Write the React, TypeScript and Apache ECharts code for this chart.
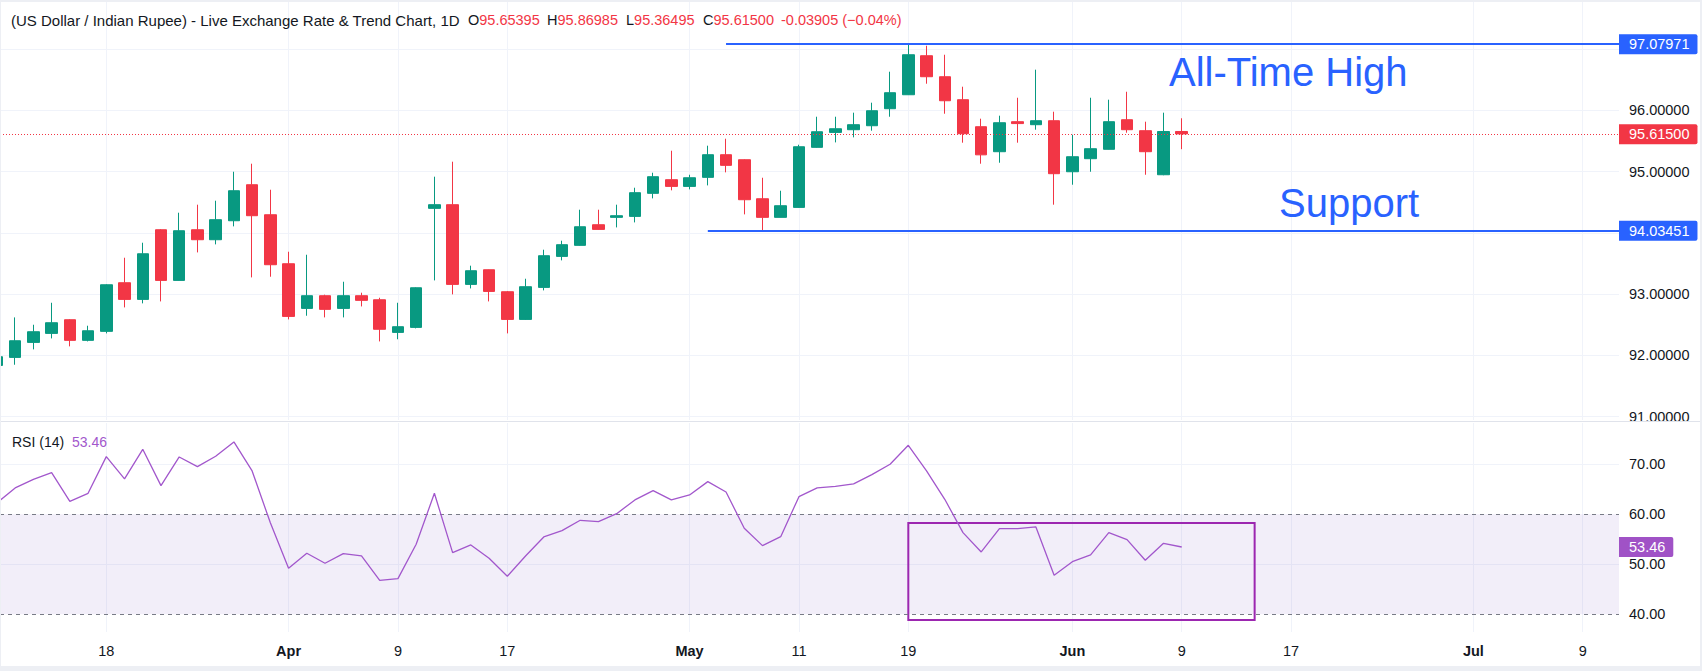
import React, { useEffect, useRef } from "react";
import * as echarts from "echarts";

// ---------- data ----------
function weekdays(start: string, count: number): string[] {
  const out: string[] = [];
  const d = new Date(start + "T00:00:00Z");
  while (out.length < count) {
    const w = d.getUTCDay();
    if (w !== 0 && w !== 6) out.push(d.toISOString().slice(0, 10));
    d.setUTCDate(d.getUTCDate() + 1);
  }
  return out;
}
const axisDates = weekdays("2026-03-10", 92);

const opens = [
  91.835, 91.966, 92.211, 92.358, 92.581, 92.244, 92.391, 93.185, 92.913, 94.05,
  93.223, 94.05, 93.887, 94.197, 94.785, 94.295, 93.495, 92.766, 92.973, 92.766,
  92.973, 92.907, 92.374, 92.456, 94.399, 94.459, 93.158, 93.397, 93.038, 92.586,
  93.109, 93.615, 93.795, 94.132, 94.252, 94.268, 94.644, 94.867, 94.758, 94.905,
  95.275, 95.193, 94.556, 94.252, 94.415, 95.395, 95.639, 95.683, 95.748, 96.026,
  96.254, 96.891, 96.548, 96.173, 95.732, 95.324, 95.814, 95.765, 95.83, 94.997,
  95.21, 95.363, 95.846, 95.667, 94.948, 95.65395,
];
const closes = [
  91.977, 92.238, 92.385, 92.532, 92.244, 92.401, 93.152, 92.913, 93.658, 93.223,
  94.034, 93.887, 94.214, 94.687, 94.279, 93.479, 92.635, 92.973, 92.75, 92.973,
  92.897, 92.425, 92.467, 93.103, 94.459, 93.158, 93.381, 93.043, 92.586, 93.12,
  93.626, 93.806, 94.099, 94.056, 94.279, 94.655, 94.916, 94.758, 94.899, 95.275,
  95.101, 94.54, 94.252, 94.442, 95.405, 95.65, 95.699, 95.765, 95.993, 96.287,
  96.907, 96.548, 96.156, 95.618, 95.273, 95.797, 95.783, 95.83, 94.965, 95.242,
  95.373, 95.814, 95.683, 95.324, 95.654, 95.615,
];
const lows = [
  91.8, 91.846, 92.097, 92.276, 92.146, 92.227, 92.358, 92.782, 92.848, 92.88,
  93.22, 93.68, 93.811, 94.105, 93.272, 93.283, 92.586, 92.646, 92.619, 92.619,
  92.798, 92.227, 92.262, 92.44, 93.223, 92.995, 93.092, 92.88, 92.358, 92.58,
  93.06, 93.55, 93.79, 94.05, 94.088, 94.17, 94.562, 94.693, 94.709, 94.774,
  94.987, 94.301, 94.0345, 94.25, 94.41, 95.39, 95.476, 95.558, 95.667, 95.895,
  96.25, 96.434, 95.944, 95.471, 95.128, 95.144, 95.471, 95.683, 94.459, 94.785,
  94.997, 95.36, 95.634, 94.948, 94.94, 95.36495,
];
const highs = [
  92.0, 92.619, 92.499, 92.858, 92.59, 92.483, 93.16, 93.593, 93.838, 94.06,
  94.328, 94.459, 94.524, 94.997, 95.128, 94.703, 93.691, 93.642, 92.99, 93.201,
  93.022, 92.94, 92.858, 93.11, 94.916, 95.161, 93.463, 93.4, 93.05, 93.25,
  93.724, 93.871, 94.377, 94.377, 94.459, 94.736, 94.981, 95.34, 94.948, 95.422,
  95.536, 95.2, 94.899, 94.687, 95.438, 95.895, 95.895, 95.961, 96.124, 96.63,
  97.07971, 97.054, 96.907, 96.385, 95.863, 95.912, 96.205, 96.663, 95.977, 95.601,
  96.205, 96.173, 96.303, 95.814, 95.961, 95.86985,
];
const rsiValues = [
  62.3, 65.27, 67.0, 68.33, 62.6, 64.2, 71.53, 67.07, 73.0, 65.73,
  71.47, 69.53, 71.6, 74.47, 68.67, 58.3, 49.2, 52.2, 50.2, 52.13,
  51.67, 46.8, 47.13, 54.0, 64.2, 52.33, 53.87, 51.2, 47.6, 51.67,
  55.47, 56.73, 58.8, 58.53, 60.13, 62.87, 64.73, 62.87, 63.87, 66.53,
  64.47, 57.2, 53.73, 55.53, 63.53, 65.27, 65.6, 66.07, 67.93, 70.0,
  73.8, 68.67, 63.0, 56.33, 52.47, 57.13, 57.13, 57.47, 47.8, 50.53,
  51.87, 56.33, 54.93, 50.8, 54.2, 53.46,
];

const tickDates = [
  "2026-03-10", "2026-03-18", "2026-04-01", "2026-04-09", "2026-04-17", "2026-05-01",
  "2026-05-11", "2026-05-19", "2026-06-01", "2026-06-09", "2026-06-17", "2026-07-01", "2026-07-09",
];
const tickTexts = ["10", "18", "Apr", "9", "17", "May", "11", "19", "Jun", "9", "17", "Jul", "9"];
const monthTicks = ["Apr", "May", "Jun", "Jul"];

const priceGridValues = [91, 92, 93, 94, 95, 96, 97];
const priceLabelValues = [91, 92, 93, 95, 96];
const rsiGridValues = [50, 70];
const rsiLabelValues = [40, 50, 60, 70];

const lastClose = 95.615;
const allTimeHigh = 97.07971;
const supportLevel = 94.03451;
const athStartDate = "2026-05-05";
const supportStartDate = "2026-05-04";
const boxStartDate = "2026-05-19";
const boxEndDate = "2026-06-15";
const boxTop = 58.26;
const boxBottom = 38.86;
const rsiLast = 53.46;

// ---------- style ----------
const FONT = "'Liberation Sans', Arial, sans-serif";
const GREEN = "#089981";
const RED = "#f23645";
const BLUE = "#2962ff";
const PURPLE = "#a257cc";
const BOXPURPLE = "#9c27b0";
const DARK = "#131722";
const GRID = "#f0f3fa";
const FRAME = "#edeff4";
const AXIS_FS = 14.5;

const X_MIN = 0.168;
const X_MAX = 88.99;

export default function App() {
  const ref = useRef<HTMLDivElement>(null);

  useEffect(() => {
    if (!ref.current) return;
    const chart = echarts.init(ref.current, null, { renderer: "svg" });

    const idx = (d: string) => axisDates.indexOf(d);
    const tickIdx = tickDates.map(idx);
    const labelByIdx: Record<number, string> = {};
    tickIdx.forEach((v, i) => (labelByIdx[v] = tickTexts[i]));

    const candleData = opens.map((o, i) => [i, o, closes[i], lows[i], highs[i]]);
    const rsiData = rsiValues.map((v, i) => [i, v]);

    const boxLabel = (text: string, bg: string, padR = 8) => ({
      show: true,
      position: "end",
      distance: 0,
      formatter: text,
      backgroundColor: bg,
      color: "#ffffff",
      fontFamily: FONT,
      fontSize: AXIS_FS,
      padding: [3, padR, 2, 10],
      borderRadius: [0, 2, 2, 0],
    });

    const option: any = {
      animation: false,
      backgroundColor: "#ffffff",
      textStyle: { fontFamily: FONT },
      grid: [
        { left: 0, top: 2, width: 1619, height: 418 },
        { left: 0, top: 423, width: 1619, height: 209 },
      ],
      xAxis: [
        {
          type: "value",
          gridIndex: 0,
          min: X_MIN,
          max: X_MAX,
          axisLine: { show: false },
          axisTick: { show: false, customValues: tickIdx },
          axisLabel: { show: false, customValues: tickIdx },
          splitLine: { show: true, lineStyle: { color: GRID, width: 1 } },
        },
        {
          type: "value",
          gridIndex: 1,
          min: X_MIN,
          max: X_MAX,
          axisLine: { show: false },
          axisTick: { show: false, customValues: tickIdx },
          axisLabel: {
            show: true,
            customValues: tickIdx,
            margin: 11,
            color: DARK,
            fontSize: AXIS_FS,
            fontFamily: FONT,
            formatter: (v: number) => {
              const t = labelByIdx[Math.round(v)] ?? "";
              return monthTicks.includes(t) ? `{b|${t}}` : t;
            },
            rich: { b: { fontWeight: "bold", fontSize: AXIS_FS, color: DARK, fontFamily: FONT } },
          },
          splitLine: { show: true, lineStyle: { color: GRID, width: 1 } },
        },
      ],
      yAxis: [
        {
          type: "value",
          gridIndex: 0,
          position: "right",
          min: 90.944,
          max: 97.768,
          axisLine: { show: false },
          axisTick: { show: false, customValues: priceGridValues },
          axisLabel: {
            customValues: priceLabelValues,
            formatter: (v: number) => v.toFixed(5),
            margin: 10,
            color: DARK,
            fontSize: AXIS_FS,
            fontFamily: FONT,
          },
          splitLine: { show: true, lineStyle: { color: GRID, width: 1 } },
        },
        {
          type: "value",
          gridIndex: 1,
          position: "right",
          min: 36.46,
          max: 78.26,
          axisLine: { show: false },
          axisTick: { show: false, customValues: rsiGridValues },
          axisLabel: {
            customValues: rsiLabelValues,
            formatter: (v: number) => v.toFixed(2),
            margin: 10,
            color: DARK,
            fontSize: AXIS_FS,
            fontFamily: FONT,
          },
          splitLine: { show: true, lineStyle: { color: GRID, width: 1 } },
        },
      ],
      series: [
        {
          type: "candlestick",
          xAxisIndex: 0,
          yAxisIndex: 0,
          data: candleData,
          barWidth: 12,
          itemStyle: {
            color: GREEN,
            color0: RED,
            borderColor: GREEN,
            borderColor0: RED,
            borderWidth: 1,
          },
          markLine: {
            silent: true,
            symbol: ["none", "none"],
            data: [
              {
                yAxis: lastClose,
                lineStyle: { color: RED, type: [1, 2], width: 1 },
                label: boxLabel(lastClose.toFixed(5), RED),
              },
              [
                {
                  coord: [idx(athStartDate), allTimeHigh],
                  lineStyle: { color: BLUE, type: "solid", width: 2 },
                  label: boxLabel(allTimeHigh.toFixed(5), BLUE),
                },
                { coord: [X_MAX, allTimeHigh] },
              ],
              [
                {
                  coord: [idx(supportStartDate), supportLevel],
                  lineStyle: { color: BLUE, type: "solid", width: 2 },
                  label: boxLabel(supportLevel.toFixed(5), BLUE),
                },
                { coord: [X_MAX, supportLevel] },
              ],
            ],
          },
        },
        {
          type: "line",
          xAxisIndex: 1,
          yAxisIndex: 1,
          data: rsiData,
          showSymbol: false,
          symbol: "none",
          lineStyle: { color: PURPLE, width: 1.3 },
          z: 5,
          markArea: {
            silent: true,
            data: [
              [
                { yAxis: 40, itemStyle: { color: "rgba(126,87,194,0.1)" } },
                { yAxis: 60 },
              ],
              [
                {
                  coord: [idx(boxStartDate), boxTop],
                  itemStyle: { color: "rgba(0,0,0,0)", borderColor: BOXPURPLE, borderWidth: 2 },
                },
                { coord: [idx(boxEndDate), boxBottom] },
              ],
            ],
          },
          markLine: {
            silent: true,
            symbol: ["none", "none"],
            data: [
              { yAxis: 60, lineStyle: { color: "#787b86", type: [4, 4], width: 1 }, label: { show: false } },
              { yAxis: 40, lineStyle: { color: "#787b86", type: [4, 4], width: 1 }, label: { show: false } },
              {
                yAxis: rsiLast,
                lineStyle: { color: "rgba(0,0,0,0)", width: 0 },
                label: boxLabel(rsiLast.toFixed(2), "#a052c6", 8),
              },
            ],
          },
        },
      ],
      graphic: [
        // clip of the price label under the pane divider
        { type: "rect", z: 100, shape: { x: 1619, y: 421, width: 83, height: 9 }, style: { fill: "#ffffff" } },
        { type: "rect", z: 101, shape: { x: 0, y: 421, width: 1702, height: 1 }, style: { fill: "#e0e3eb" } },
        // frame
        { type: "rect", z: 102, shape: { x: 0, y: 0, width: 1702, height: 2 }, style: { fill: FRAME } },
        { type: "rect", z: 102, shape: { x: 0, y: 0, width: 1, height: 671 }, style: { fill: FRAME } },
        { type: "rect", z: 102, shape: { x: 1700, y: 0, width: 2, height: 671 }, style: { fill: FRAME } },
        { type: "rect", z: 102, shape: { x: 0, y: 666, width: 1702, height: 5 }, style: { fill: FRAME } },
        // title
        {
          type: "text", z: 110, x: 11, y: 20,
          style: {
            text: "(US Dollar / Indian Rupee) - Live Exchange Rate & Trend Chart, 1D",
            fill: DARK, fontSize: 15, fontFamily: FONT, verticalAlign: "middle", align: "left",
          },
        },
        ...[
          ["O", "95.65395", 468],
          ["H", "95.86985", 547],
          ["L", "95.36495", 626],
          ["C", "95.61500", 703],
        ].map(([k, v, x]) => ({
          type: "text", z: 110, x: x as number, y: 20,
          style: {
            text: `{k|${k}}{v|${v}}`,
            fontSize: 14.5, fontFamily: FONT, verticalAlign: "middle", align: "left",
            rich: {
              k: { fill: DARK, fontSize: 14.5, fontFamily: FONT },
              v: { fill: RED, fontSize: 14.5, fontFamily: FONT },
            },
          },
        })),
        {
          type: "text", z: 110, x: 781, y: 20,
          style: { text: "-0.03905 (\u22120.04%)", fill: RED, fontSize: 14.5, fontFamily: FONT, verticalAlign: "middle", align: "left" },
        },
        // annotations
        {
          type: "text", z: 110, x: 1169, y: 72,
          style: { text: "All-Time High", fill: BLUE, fontSize: 40, fontFamily: FONT, verticalAlign: "middle", align: "left" },
        },
        {
          type: "text", z: 110, x: 1279, y: 203,
          style: { text: "Support", fill: BLUE, fontSize: 40, fontFamily: FONT, verticalAlign: "middle", align: "left" },
        },
        // RSI legend
        {
          type: "text", z: 110, x: 12, y: 442,
          style: { text: "RSI (14)", fill: DARK, fontSize: 14, fontFamily: FONT, verticalAlign: "middle", align: "left" },
        },
        {
          type: "text", z: 110, x: 72, y: 442,
          style: { text: rsiLast.toFixed(2), fill: PURPLE, fontSize: 14, fontFamily: FONT, verticalAlign: "middle", align: "left" },
        },
      ],
    };

    chart.setOption(option);
    return () => chart.dispose();
  }, []);

  return (
    <div
      ref={ref}
      style={{ position: "absolute", left: 0, top: 0, width: 1702, height: 671, background: "#ffffff" }}
    />
  );
}
